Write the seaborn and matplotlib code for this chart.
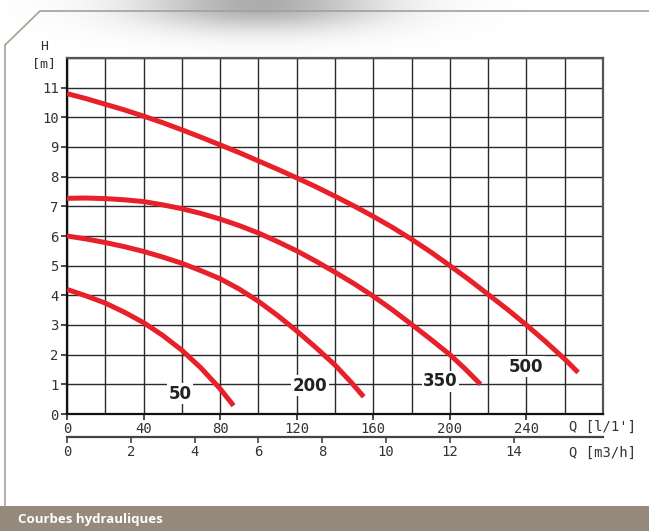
import numpy as np
import pandas as pd
import matplotlib
matplotlib.use('Agg')
import matplotlib.pyplot as plt
import seaborn as sns

# Pump curves: flow Q [l/min] vs head H [m]
q_50 = [0, 10, 20, 30, 40, 50, 60, 70, 80, 87]
h_50 = [4.2, 3.98, 3.74, 3.43, 3.08, 2.65, 2.15, 1.55, 0.85, 0.28]

q_200 = [0, 10, 20, 30, 40, 50, 60, 70, 80, 90, 100, 110, 120, 130, 140, 148, 155]
h_200 = [6.0, 5.9, 5.78, 5.64, 5.48, 5.29, 5.08, 4.83, 4.56, 4.21, 3.8, 3.32,
         2.8, 2.24, 1.65, 1.1, 0.58]

q_350 = [0, 10, 20, 30, 40, 50, 60, 70, 80, 90, 100, 110, 120, 130, 140, 150,
         160, 170, 180, 190, 200, 208, 216]
h_350 = [7.27, 7.28, 7.26, 7.22, 7.16, 7.05, 6.92, 6.76, 6.57, 6.35, 6.1, 5.81,
         5.5, 5.15, 4.78, 4.39, 3.97, 3.51, 3.02, 2.52, 2.0, 1.52, 1.0]

q_500 = [0, 10, 20, 30, 40, 50, 60, 70, 80, 90, 100, 110, 120, 130, 140, 150,
         160, 170, 180, 190, 200, 210, 220, 230, 240, 250, 260, 267]
h_500 = [10.8, 10.63, 10.44, 10.25, 10.04, 9.82, 9.58, 9.33, 9.07, 8.81, 8.53,
         8.25, 7.96, 7.66, 7.34, 7.01, 6.66, 6.29, 5.89, 5.46, 5.0, 4.53, 4.03,
         3.53, 3.0, 2.44, 1.85, 1.4]

curve_names = ['50', '200', '350', '500']
label_q = [59, 127, 195, 240]
label_h = [0.68, 0.95, 1.1, 1.6]

x_ticks = [0, 40, 80, 120, 160, 200, 240]
y_ticks = list(range(0, 12))
m3h_ticks = [0, 2, 4, 6, 8, 10, 12, 14]

RED = '#E8202A'
GRID = '#2a2a2a'
FRAME = '#a89f93'
BAND = '#968a7c'
TXT = '#333333'

sns.set_style('white')
plt.rcParams['font.family'] = ['DejaVu Sans Mono', 'DejaVu Sans']

df = pd.concat([
    pd.DataFrame({'Q': q, 'H': h, 'curve': n})
    for q, h, n in zip([q_50, q_200, q_350, q_500],
                       [h_50, h_200, h_350, h_500], curve_names)
])

fig = plt.figure(figsize=(6.49, 5.31), dpi=100)

# background decorations in pixel coordinates
bg = fig.add_axes([0, 0, 1, 1], zorder=0)
bg.set_xlim(0, 649)
bg.set_ylim(531, 0)
bg.axis('off')

xs = np.linspace(0, 649, 400)
ys = np.linspace(0, 60, 60)
X, Y = np.meshgrid(xs, ys)
v = np.exp(-((X - 260) / 120) ** 2 - ((Y - 4) / 26) ** 2)
img = np.zeros((len(ys), len(xs), 4))
img[..., :3] = 0.5
img[..., 3] = 0.65 * v
bg.imshow(img, extent=(0, 649, 60, 0), aspect='auto', interpolation='bilinear')

bg.plot([5, 40, 649], [45, 11, 11], color=FRAME, lw=1.2)
bg.plot([5, 5], [45, 506], color=FRAME, lw=1.2)
bg.add_patch(plt.Rectangle((0, 506), 649, 25, color=BAND, lw=0))
bg.text(18, 519, 'Courbes hydrauliques', color='white', fontsize=9.5,
        fontweight='bold', family='Open Sans', va='center', ha='left')
bg.text(44, 46, 'H', color=TXT, fontsize=9.5, ha='center', va='center')
bg.text(44, 64, '[m]', color=TXT, fontsize=9.5, ha='center', va='center')
bg.text(636, 427, "Q [l/1']", color=TXT, fontsize=10, ha='right', va='center')
bg.text(636, 453, 'Q [m3/h]', color=TXT, fontsize=10, ha='right', va='center')

# main chart
ax = fig.add_axes([67 / 649, 1 - 414 / 531, 536 / 649, 356 / 531], zorder=1)
sns.lineplot(data=df, x='Q', y='H', hue='curve', palette={n: RED for n in curve_names},
             estimator=None, sort=False, legend=False, lw=3.6, ax=ax,
             solid_capstyle='butt', solid_joinstyle='round', zorder=3)

ax.set_xlim(0, 280)
ax.set_ylim(0, 12)
ax.set_xticks(x_ticks)
ax.set_xticks(np.arange(0, 281, 20), minor=True)
ax.set_yticks(y_ticks)
ax.set_yticks(np.arange(0, 13, 1), minor=True)
ax.grid(which='both', color=GRID, lw=1.0)
ax.set_axisbelow(True)
ax.set_xlabel('')
ax.set_ylabel('')
ax.tick_params(which='major', direction='out', length=4, width=1.2, colors=GRID,
               labelcolor=TXT, labelsize=10, pad=2, bottom=True, left=True)
ax.tick_params(which='minor', length=0)

for side in ['left', 'bottom']:
    ax.spines[side].set_color('#111111')
    ax.spines[side].set_linewidth(1.6)
for side in ['top', 'right']:
    ax.spines[side].set_color('#555555')
    ax.spines[side].set_linewidth(1.6)

for name, xq, yh in zip(curve_names, label_q, label_h):
    ax.text(xq, yh, name, fontsize=12, fontweight='bold', family='DejaVu Sans',
            color='#222222', ha='center', va='center', zorder=4,
            bbox=dict(facecolor='white', edgecolor='none', pad=1.0))

# secondary flow axis in m3/h
sec = ax.secondary_xaxis(-0.065, functions=(lambda q: q * 0.06, lambda m: m / 0.06))
sec.set_xticks(m3h_ticks)
sec.spines['bottom'].set_color('#444444')
sec.spines['bottom'].set_linewidth(1.6)
sec.tick_params(direction='out', length=4, width=1.2, colors='#444444',
                labelcolor=TXT, labelsize=10, pad=2)

fig.savefig('out.png', dpi=100)
